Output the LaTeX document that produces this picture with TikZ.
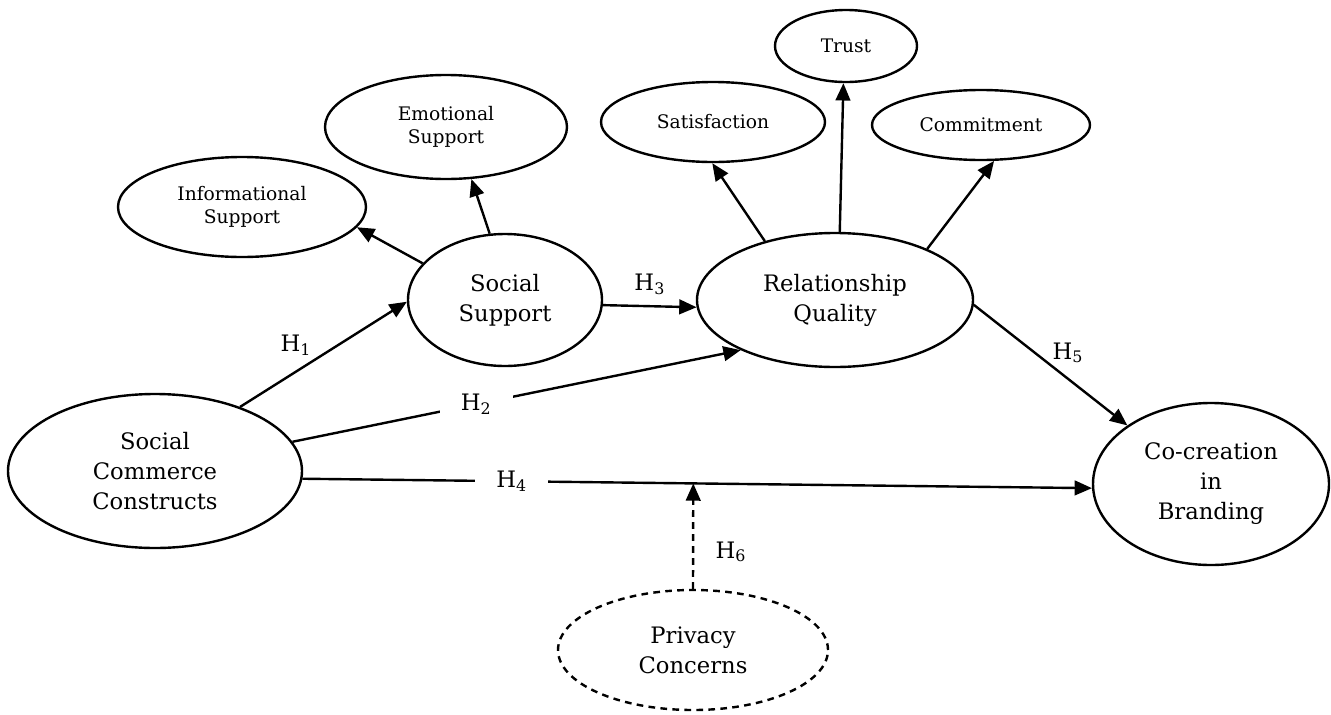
\documentclass[tikz,border=0pt]{standalone}
\usepackage{fontspec}
\setmainfont{DejaVu Serif}
\usetikzlibrary{positioning, shapes, arrows.meta}

\begin{document}
\begin{tikzpicture}[
    x=0.75pt, y=-0.75pt,
    construct/.style={ellipse, draw, line width=1.8pt, inner sep=2pt, align=center, font=\fontsize{17}{22.5}\selectfont},
    facet/.style={ellipse, draw, line width=1.8pt, inner sep=2pt, align=center, font=\fontsize{14}{17.3}\selectfont},
    line/.style={draw, line width=1.8pt, -{Triangle[length=13pt,width=11pt]}},
    dashline/.style={dash pattern=on 5pt off 4pt},
    hyp/.style={font=\fontsize{17}{20}\selectfont, inner sep=2pt}
    ]
    \useasboundingbox (0,0) rectangle (1331,714);

    \node[construct, minimum width=220.5pt, minimum height=115.5pt] (scc) at (155,471) {Social\\Commerce\\Constructs};
    \node[construct, minimum width=145.5pt, minimum height=99pt] (ss) at (505,300) {Social\\Support};
    \node[construct, minimum width=207pt, minimum height=100.5pt] (rq) at (835,300) {Relationship\\Quality};
    \node[construct, minimum width=177pt, minimum height=121.5pt] (ccb) at (1211,484) {Co-creation\\in\\Branding};
    \node[construct, dashline, minimum width=202.5pt, minimum height=90pt] (pc) at (693,650) {Privacy\\Concerns};

    \node[facet, minimum width=186pt, minimum height=75pt] (info) at (242,207) {Informational\\Support};
    \node[facet, minimum width=181.5pt, minimum height=78pt] (emo) at (446,127) {Emotional\\Support};
    \node[facet, minimum width=168pt, minimum height=60pt] (sat) at (713,122) {Satisfaction};
    \node[facet, minimum width=106.5pt, minimum height=54pt] (trust) at (846,46) {Trust};
    \node[facet, minimum width=163.5pt, minimum height=52.5pt] (commit) at (981,125) {Commitment};

    \draw[line] (ss.156) -- (info.-10);
    \draw[line] (ss.103) -- (emo.-64);
    \draw[line] (rq.140) -- (sat.-91);
    \draw[line] (rq.86) -- (trust.-94);
    \draw[line] (rq.29) -- (commit.-70);

    \draw[line] (scc.37) -- node[hyp, pos=0.45, above left] {H\textsubscript{1}} (ss.181);
    \draw[line] (scc.12) -- node[hyp, pos=0.41, fill=white, inner xsep=16pt] {H\textsubscript{2}} (rq.208);
    \draw[line] (ss.-3) -- node[hyp, midway, above=6pt] {H\textsubscript{3}} (rq.183);
    \draw[line] (scc.-3) -- node[hyp, pos=0.265, fill=white, inner xsep=16pt] {H\textsubscript{4}} coordinate[pos=0.495] (mod) (ccb.182);
    \draw[line] (rq.-2) -- node[hyp, pos=0.5, above right=-2pt] {H\textsubscript{5}} (ccb.145);
    \draw[line, dashline] (pc.north) -- node[hyp, pos=0.35, right=14pt] {H\textsubscript{6}} (mod);

  \end{tikzpicture}
\end{document}
